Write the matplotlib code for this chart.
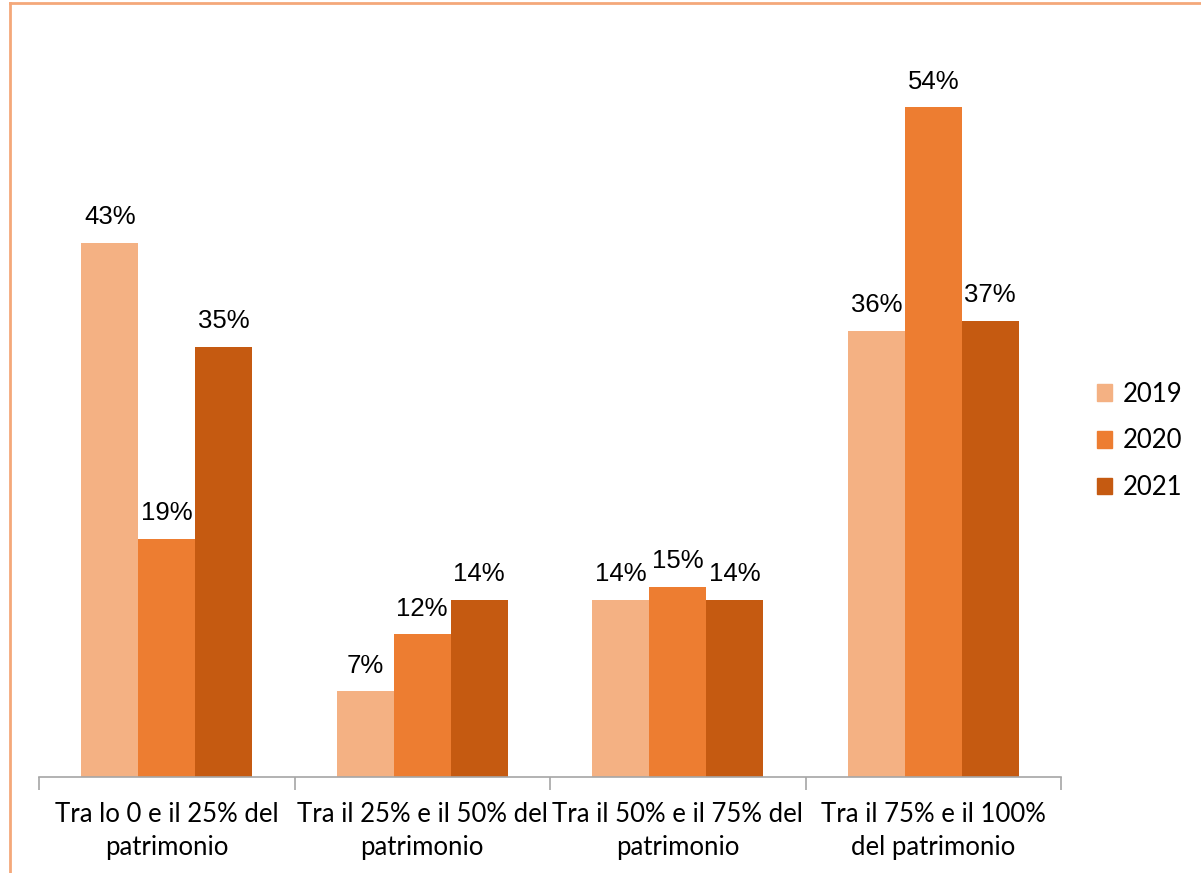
import matplotlib
matplotlib.use("Agg")
import matplotlib.pyplot as plt
from matplotlib.patches import Rectangle
from matplotlib.lines import Line2D
import numpy as np

plt.rcParams['font.family'] = ['Lato', 'DejaVu Sans']

categories = ["Tra lo 0 e il 25% del\npatrimonio",
              "Tra il 25% e il 50% del\npatrimonio",
              "Tra il 50% e il 75% del\npatrimonio",
              "Tra il 75% e il 100%\ndel patrimonio"]
series_names = ["2019", "2020", "2021"]
v2019 = [43.1, 6.9, 14.3, 36.0]
v2020 = [19.2, 11.5, 15.3, 54.0]
v2021 = [34.7, 14.3, 14.3, 36.8]
labels2019 = ["43%", "7%", "14%", "36%"]
labels2020 = ["19%", "12%", "15%", "54%"]
labels2021 = ["35%", "14%", "14%", "37%"]
colors = ["#F4B183", "#ED7D31", "#C55A11"]

W, H = 1201, 873
fig = plt.figure(figsize=(W/100, H/100), dpi=100)

x0, x1 = 39, 1061
yb, yt = 777, 33
ax = fig.add_axes([x0/W, 1 - yb/H, (x1-x0)/W, (yb-yt)/H])

n = len(categories)
x = np.arange(n)
bw = 0.2225
series = [v2019, v2020, v2021]
labs = [labels2019, labels2020, labels2021]
for i, (vals, lb, c, name) in enumerate(zip(series, labs, colors, series_names)):
    pos = x + (i - 1) * bw
    ax.bar(pos, vals, width=bw, color=c, label=name, linewidth=0)
    for p, v, t in zip(pos, vals, lb):
        ax.annotate(t, (p, v), xytext=(0, 10), textcoords="offset points",
                    ha="center", va="bottom", fontsize=18.5, color="#000000",
                    family=["Liberation Sans", "DejaVu Sans"])

ax.set_xlim(-0.5, n - 0.5)
ax.set_ylim(0, 60)
for s in ["top", "right", "left"]:
    ax.spines[s].set_visible(False)
ax.spines["bottom"].set_color("#A6A6A6")
ax.spines["bottom"].set_linewidth(1.2)
ax.set_yticks([])
ax.set_xticks(np.arange(-0.5, n, 1.0))
ax.set_xticklabels([])
ax.tick_params(axis="x", length=9, width=1.2, color="#A6A6A6", direction="out")
ax.set_xticks(x, minor=True)
ax.set_xticklabels(categories, minor=True, fontsize=18.5, linespacing=1.4)
ax.tick_params(axis="x", which="minor", length=0, pad=18)

handles = [Rectangle((0, 0), 1, 1, color=c) for c in colors]
fig.legend(handles, series_names, loc="center left",
           bbox_to_anchor=(1097/W, 1 - 441/H), frameon=False, fontsize=18.5,
           handlelength=0.6, handleheight=0.6, handletextpad=0.4,
           labelspacing=0.85, borderpad=0, borderaxespad=0)

fig.add_artist(Line2D([10/W, 1], [1 - 3/H, 1 - 3/H], color="#F4A87A", lw=2,
                      transform=fig.transFigure))
fig.add_artist(Line2D([10/W, 10/W], [0, 1 - 3/H], color="#F4A87A", lw=2,
                      transform=fig.transFigure))

fig.savefig("out.png", dpi=100, facecolor="white")
